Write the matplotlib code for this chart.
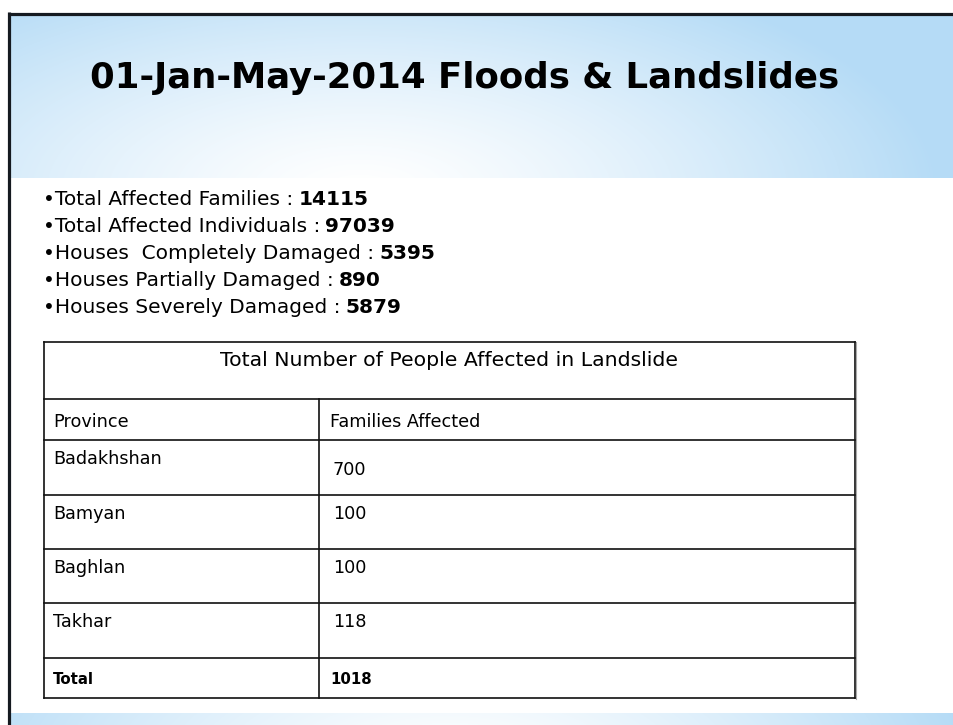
import numpy as np
import matplotlib
matplotlib.use('Agg')
import matplotlib.pyplot as plt

W, H = 954, 725

title = '01-Jan-May-2014 Floods & Landslides'
stat_labels = ['Total Affected Families', 'Total Affected Individuals',
               'Houses  Completely Damaged', 'Houses Partially Damaged',
               'Houses Severely Damaged']
stat_values = [14115, 97039, 5395, 890, 5879]

table_title = 'Total Number of People Affected in Landslide'
col_headers = ['Province', 'Families Affected']
provinces = ['Badakhshan', 'Bamyan', 'Baghlan', 'Takhar']
families = [700, 100, 100, 118]
total_label = 'Total'
total_value = 1018

plt.rcParams['font.family'] = ['DejaVu Sans']

fig = plt.figure(figsize=(W / 100, H / 100), dpi=100)
ax = fig.add_axes([0, 0, 1, 1])
ax.set_xlim(0, W)
ax.set_ylim(H, 0)
ax.axis('off')
renderer = fig.canvas.get_renderer()

blue = np.array([0.71, 0.86, 0.965])


def band(y0, y1, cx, cy, rx, ry):
    xs = np.arange(11, W) + 0.5
    ys = np.arange(y0, y1) + 0.5
    X, Y = np.meshgrid(xs, ys)
    d = np.clip(np.hypot((X - cx) / rx, (Y - cy) / ry), 0, 1) ** 1.3
    img = 1 - d[..., None] * (1 - blue)
    ax.imshow(img, extent=(11, W, y1, y0), aspect='auto',
              interpolation='bilinear', zorder=0)


# header and footer bands
band(15, 178, 360, 190, 580, 240)
band(713, H, 450, 760, 520, 200)

# slide border (top and left)
ax.plot([8, W], [13.5, 13.5], color='#151a20', lw=2.3, solid_capstyle='butt')
ax.plot([9.5, 9.5], [12, H], color='#151a20', lw=2.3, solid_capstyle='butt')


def fit(t, width):
    w = t.get_window_extent(renderer).width
    t.set_fontsize(t.get_fontsize() * width / w)
    return t.get_fontsize()


# title
t = ax.text(90, 88, title, fontsize=30, fontweight='bold', va='baseline')
fit(t, 748)

# bullet stats
def draw_stat(i, size):
    y = 205 + 27 * i
    a = ax.text(43, y, '\u2022' + stat_labels[i] + ' :', fontsize=size,
                va='baseline')
    x1 = a.get_window_extent(renderer).x1
    b = ax.text(x1 + size * 0.35, y, str(stat_values[i]), fontsize=size,
                fontweight='bold', va='baseline')
    return a, b

a, b = draw_stat(0, 15)
full = b.get_window_extent(renderer).x1 - 43
size = 15 * 327 / full
a.remove()
b.remove()
for i in range(len(stat_labels)):
    draw_stat(i, size)

# table
tl, tr, tdiv = 44, 855, 319
rows = [342, 399, 440, 495, 549, 603, 658, 698]
lc = '#111111'
for y in rows:
    ax.plot([tl, tr], [y, y], color=lc, lw=1.2, solid_capstyle='projecting')
ax.plot([tl, tl], [rows[0], rows[-1]], color=lc, lw=1.2)
ax.plot([tr, tr], [rows[0], rows[-1]], color=lc, lw=1.2)
ax.plot([tr + 1.5, tr + 1.5], [rows[0], rows[-1] + 1], color='#aaaaaa', lw=0.8)
ax.plot([tdiv, tdiv], [rows[1], rows[-1]], color=lc, lw=1.2)

tt = ax.text((tl + tr) / 2, 366, table_title, fontsize=12, ha='center',
             va='baseline')
fit(tt, 454)
p = ax.text(53, 427, col_headers[0], fontsize=12, va='baseline')
ts = fit(p, 75)
ax.text(330, 427, col_headers[1], fontsize=ts, va='baseline')

for i, (prov, fam) in enumerate(zip(provinces, families)):
    top = rows[2 + i]
    ax.text(53, top + 24, prov, fontsize=ts, va='baseline')
    off = 35 if i == 0 else 24
    ax.text(333, top + off, str(fam), fontsize=ts, va='baseline')

top = rows[-2]
ax.text(53, top + 26, total_label, fontsize=ts * 0.85, fontweight='bold',
        va='baseline')
ax.text(330, top + 26, str(total_value), fontsize=ts * 0.85,
        fontweight='bold', va='baseline')

fig.savefig('out.png', dpi=100)
